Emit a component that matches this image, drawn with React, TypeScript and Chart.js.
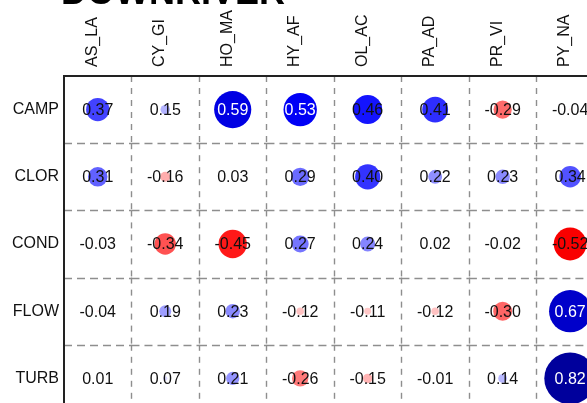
import React, { useEffect, useRef } from "react";
import { Chart, registerables } from "chart.js";

Chart.register(...registerables);

const TITLE = "DOWNRIVER";
const COLS = ["AS_LA", "CY_GI", "HO_MA", "HY_AF", "OL_AC", "PA_AD", "PR_VI", "PY_NA"];
const ROWS = ["CAMP", "CLOR", "COND", "FLOW", "TURB"];

const CAMP = [0.37, 0.15, 0.59, 0.53, 0.46, 0.41, -0.29, -0.04];
const CLOR = [0.31, -0.16, 0.03, 0.29, 0.4, 0.22, 0.23, 0.34];
const COND = [-0.03, -0.34, -0.45, 0.27, 0.24, 0.02, -0.02, -0.52];
const FLOW = [-0.04, 0.19, 0.23, -0.12, -0.11, -0.12, -0.3, 0.67];
const TURB = [0.01, 0.07, 0.21, -0.26, -0.15, -0.01, 0.14, 0.82];

const MATRIX = [CAMP, CLOR, COND, FLOW, TURB];

// The reference is a crop: only part of the last column / row is visible.
const X_VISIBLE = 7.75;
const Y_VISIBLE = 4.866;

const FONT = "'Liberation Sans', Arial, Helvetica, sans-serif";
const RADIUS_PER_UNIT = 31.5;
const W = 587;
const H = 403;

function colorFor(v: number): string {
  const a = Math.abs(v);
  if (a <= 0.5) {
    const c = Math.round(255 * (1 - a / 0.5));
    return v >= 0 ? `rgb(${c},${c},255)` : `rgb(255,${c},${c})`;
  }
  const d = Math.round(255 - ((a - 0.5) / 0.5) * 155);
  return v >= 0 ? `rgb(0,0,${d})` : `rgb(${d},0,0)`;
}

function zeroPadding(s: any) {
  s.paddingLeft = 0;
  s.paddingRight = 0;
  s.paddingTop = 0;
  s.paddingBottom = 0;
}

export default function App() {
  const ref = useRef<HTMLCanvasElement | null>(null);

  useEffect(() => {
    if (!ref.current) return;
    const points: { x: number; y: number; r: number; v: number }[] = [];
    MATRIX.forEach((row, ri) => {
      row.forEach((v, ci) => {
        points.push({ x: ci + 0.5, y: ri + 0.5, r: Math.abs(v) * RADIUS_PER_UNIT, v });
      });
    });

    const gridPlugin = {
      id: "cellGrid",
      beforeDatasetsDraw(chart: any) {
        const { ctx, scales } = chart;
        const x = scales.x;
        const y = scales.y;
        ctx.save();
        ctx.strokeStyle = "#8e8e8e";
        ctx.lineWidth = 1.4;
        ctx.setLineDash([6, 6]);
        for (let i = 1; i <= COLS.length; i++) {
          const px = Math.round(x.getPixelForValue(i)) + 0.5;
          for (let j = 0; j < ROWS.length; j++) {
            const y0 = y.getPixelForValue(j);
            const y1 = y.getPixelForValue(j + 1);
            ctx.beginPath();
            ctx.moveTo(px, y0);
            ctx.lineTo(px, y1);
            ctx.stroke();
          }
        }
        ctx.setLineDash([8, 5]);
        for (let j = 1; j <= ROWS.length; j++) {
          const py = Math.round(y.getPixelForValue(j)) + 0.5;
          for (let i = 0; i < COLS.length; i++) {
            const x0 = x.getPixelForValue(i);
            const x1 = x.getPixelForValue(i + 1);
            ctx.beginPath();
            ctx.moveTo(x0, py);
            ctx.lineTo(x1, py);
            ctx.stroke();
          }
        }
        ctx.restore();
      },
      afterDatasetsDraw(chart: any) {
        const { ctx, chartArea } = chart;
        const meta = chart.getDatasetMeta(0);
        ctx.save();
        ctx.font = `16px ${FONT}`;
        ctx.textAlign = "center";
        ctx.textBaseline = "middle";
        meta.data.forEach((el: any, idx: number) => {
          const v = points[idx].v;
          ctx.fillStyle = v > 0.5 ? "#ffffff" : "#111111";
          ctx.fillText(v.toFixed(2), el.x, el.y + 1);
        });
        ctx.strokeStyle = "#222222";
        ctx.lineWidth = 2;
        ctx.setLineDash([]);
        ctx.beginPath();
        ctx.moveTo(chartArea.left, chartArea.bottom + 20);
        ctx.lineTo(chartArea.left, chartArea.top);
        ctx.lineTo(chartArea.right + 20, chartArea.top);
        ctx.stroke();
        ctx.fillStyle = "#000000";
        ctx.font = `bold 36px ${FONT}`;
        ctx.textAlign = "left";
        ctx.textBaseline = "alphabetic";
        ctx.fillText(TITLE, 61, 4);
        ctx.restore();
      },
    };

    const chart = new Chart(ref.current, {
      type: "bubble",
      data: {
        datasets: [
          {
            data: points,
            backgroundColor: points.map((p) => colorFor(p.v)),
            borderWidth: 0,
            clip: false as any,
          },
        ],
      },
      options: {
        animation: false,
        responsive: false,
        devicePixelRatio: 1,
        layout: { autoPadding: false, padding: 0 },
        plugins: { legend: { display: false }, tooltip: { enabled: false }, title: { display: false } },
        scales: {
          x: {
            type: "linear",
            position: "top",
            min: 0,
            max: X_VISIBLE,
            afterBuildTicks: (s: any) => {
              s.ticks = COLS.map((_, i) => ({ value: i + 0.5 }));
            },
            afterFit: (s: any) => {
              s.height = 76;
              zeroPadding(s);
            },
            grid: { display: false, drawTicks: false },
            border: { display: false },
            ticks: {
              autoSkip: false,
              maxRotation: 90,
              minRotation: 90,
              padding: 9,
              labelOffset: 14,
              color: "#111111",
              font: { family: FONT, size: 16 },
              callback: (_v: any, i: number) => COLS[i],
            },
          },
          y: {
            type: "linear",
            reverse: true,
            min: 0,
            max: Y_VISIBLE,
            afterBuildTicks: (s: any) => {
              s.ticks = ROWS.map((_, i) => ({ value: i + 0.5 }));
            },
            afterFit: (s: any) => {
              s.width = 64;
              zeroPadding(s);
            },
            grid: { display: false, drawTicks: false },
            border: { display: false },
            ticks: {
              autoSkip: false,
              padding: 5,
              color: "#111111",
              font: { family: FONT, size: 16 },
              callback: (_v: any, i: number) => ROWS[i],
            },
          },
        },
      },
      plugins: [gridPlugin],
    });
    return () => chart.destroy();
  }, []);

  return (
    <div style={{ position: "fixed", left: 0, top: 0, width: W, height: H, overflow: "hidden", background: "#ffffff" }}>
      <canvas ref={ref} width={W} height={H} style={{ width: W, height: H, display: "block" }} />
    </div>
  );
}
